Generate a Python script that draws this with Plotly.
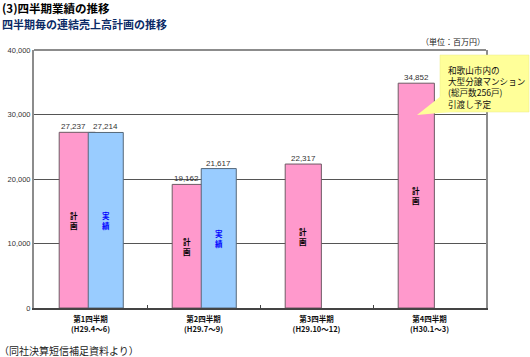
import plotly.graph_objects as go

# ---- data ----
quarters = ["第1四半期<br>(H29.4～6)", "第2四半期<br>(H29.7～9)",
            "第3四半期<br>(H29.10～12)", "第4四半期<br>(H30.1～3)"]
plan = [27237, 19162, 22317, 34852]
actual = [27214, 21617, None, None]
plan_label = "計画"
actual_label = "実績"
y_ticks = [0, 10000, 20000, 30000, 40000]
title1 = "(3)四半期業績の推移"
title2 = "四半期毎の連結売上高計画の推移"
unit_text = "（単位：百万円）"
note_text = "和歌山市内の<br>大型分譲マンション<br>(総戸数256戸)<br>引渡し予定"
source_text = "（同社決算短信補足資料より）"

# ---- layout constants (pixels) ----
W, H = 530, 357
L, R, T, B = 34, 44, 50, 49
PW = W - L - R
PH = H - T - B

PINK_OFF, PINK_W = -0.277, 0.32
BLUE_OFF, BLUE_W = -0.02, 0.31

def px(x):
    return (x - L) / PW

def py(y):
    return (H - B - y) / PH

JP = "Noto Sans CJK JP"
AR = "Liberation Sans, Arial"

fig = go.Figure()
fig.add_trace(go.Bar(
    x=quarters, y=plan, offset=PINK_OFF, width=PINK_W,
    marker=dict(color="#FF99CC", line=dict(color="#6e5a64", width=1)),
    name=plan_label, hoverinfo="skip"))
fig.add_trace(go.Bar(
    x=quarters, y=actual, offset=BLUE_OFF, width=BLUE_W,
    marker=dict(color="#99CCFF", line=dict(color="#56687a", width=1)),
    name=actual_label, hoverinfo="skip"))

ann = []

def vertical_label(cx, yv, text, color):
    ann.append(dict(x=cx, y=yv, xref="x", yref="y",
                    text="<b>" + "<br>".join(text) + "</b>",
                    showarrow=False, font=dict(family=JP, size=7.5, color=color)))

for i, v in enumerate(plan):
    left = i + PINK_OFF
    right = i + BLUE_OFF if actual[i] is not None else i + PINK_OFF + PINK_W
    cx = (left + right) / 2
    ann.append(dict(x=cx, y=v, xref="x", yref="y", text=f"{v:,}", showarrow=False,
                    yanchor="bottom", yshift=-1,
                    font=dict(family=AR, size=8, color="#333333")))
    vertical_label(cx, v / 2, plan_label, "#000000")
for i, v in enumerate(actual):
    if v is None:
        continue
    cx = i + BLUE_OFF + BLUE_W / 2
    ann.append(dict(x=cx, y=v, xref="x", yref="y", text=f"{v:,}", showarrow=False,
                    yanchor="bottom", yshift=-1,
                    font=dict(family=AR, size=8, color="#333333")))
    vertical_label(cx, v / 2, actual_label, "#0000FF")

ann += [
    dict(x=px(0), y=py(8.5), xref="paper", yref="paper", xanchor="left", yanchor="middle",
         text="<b>" + title1 + "</b>", showarrow=False,
         font=dict(family=JP, size=11.5, color="#000000")),
    dict(x=px(0), y=py(23.5), xref="paper", yref="paper", xanchor="left", yanchor="middle",
         text="<b>" + title2 + "</b>", showarrow=False,
         font=dict(family=JP, size=11, color="#0b2a66")),
    dict(x=px(487), y=py(42), xref="paper", yref="paper", xanchor="right", yanchor="middle",
         text=unit_text, showarrow=False, font=dict(family=JP, size=8, color="#222222")),
    dict(x=px(446), y=py(87), xref="paper", yref="paper", xanchor="left", yanchor="middle",
         text=note_text, showarrow=False, align="left",
         font=dict(family=JP, size=8.6, color="#111111")),
    dict(x=px(-3), y=py(350), xref="paper", yref="paper", xanchor="left", yanchor="middle",
         text=source_text, showarrow=False, font=dict(family=JP, size=10, color="#222222")),
]

shapes = [
    dict(type="line", xref="paper", yref="paper", x0=0, x1=1, y0=1, y1=1,
         line=dict(color="#8c8c8c", width=2)),
    dict(type="rect", xref="paper", yref="paper", x0=px(440), x1=px(529), y0=py(55), y1=py(112),
         fillcolor="#FFFF99", line=dict(color="#e8e88a", width=0.5), layer="above"),
    dict(type="path", xref="paper", yref="paper",
         path=f"M {px(441)},{py(96)} L {px(417)},{py(115)} L {px(456)},{py(111.5)} Z",
         fillcolor="#FFFF99", line=dict(width=0), layer="above"),
]

fig.update_layout(
    width=W, height=H,
    margin=dict(l=L, r=R, t=T, b=B, autoexpand=False),
    paper_bgcolor="white", plot_bgcolor="white",
    barmode="overlay", showlegend=False,
    annotations=ann, shapes=shapes,
    xaxis=dict(type="category", categoryorder="array", categoryarray=quarters,
               range=[-0.5, len(quarters) - 0.5], automargin=False,
               showline=True, linecolor="#444444", linewidth=1.5,
               ticks="inside", ticklen=3, tickcolor="#444444", tickson="boundaries",
               showgrid=False, ticklabelstandoff=3,
               tickfont=dict(family=JP, size=7.5, color="#111111"),
               tickprefix="<b>", ticksuffix="</b>"),
    yaxis=dict(range=[0, 40000], tickvals=y_ticks, automargin=False,
               tickformat=",d", showline=True, linecolor="#8c8c8c", linewidth=2,
               mirror=True, ticks="", showgrid=True, gridcolor="#555555", gridwidth=1,
               zeroline=False,
               tickfont=dict(family=AR, size=7.5, color="#333333")),
)

fig.write_html("out.html", config={"displayModeBar": False},
               post_script="document.body.style.margin='0';")
